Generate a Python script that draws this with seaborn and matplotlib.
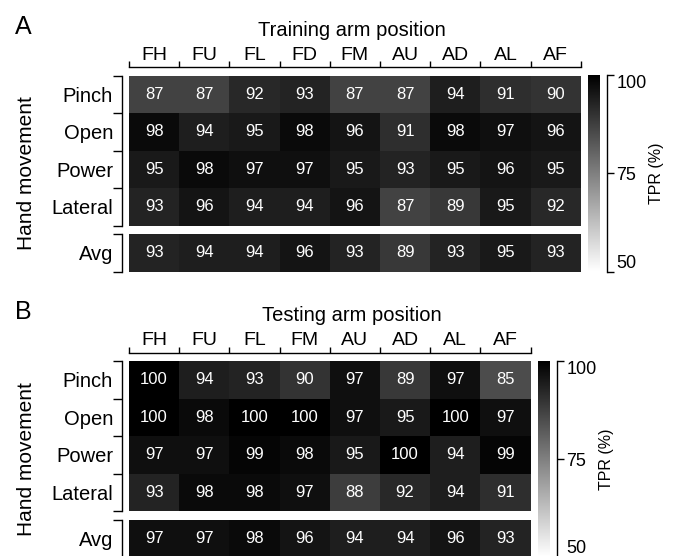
import numpy as np
import pandas as pd
import matplotlib
matplotlib.use('Agg')
import matplotlib.pyplot as plt
import seaborn as sns

# hand movements (rows) and arm positions (columns)
moves = ['Pinch', 'Open', 'Power', 'Lateral']
train_pos = ['FH', 'FU', 'FL', 'FD', 'FM', 'AU', 'AD', 'AL', 'AF']
test_pos = ['FH', 'FU', 'FL', 'FM', 'AU', 'AD', 'AL', 'AF']

# panel A: TPR (%) per training arm position
train_pinch = [87, 87, 92, 93, 87, 87, 94, 91, 90]
train_open = [98, 94, 95, 98, 96, 91, 98, 97, 96]
train_power = [95, 98, 97, 97, 95, 93, 95, 96, 95]
train_lateral = [93, 96, 94, 94, 96, 87, 89, 95, 92]
train_avg = [93, 94, 94, 96, 93, 89, 93, 95, 93]

# panel B: TPR (%) per testing arm position
test_pinch = [100, 94, 93, 90, 97, 89, 97, 85]
test_open = [100, 98, 100, 100, 97, 95, 100, 97]
test_power = [97, 97, 99, 98, 95, 100, 94, 99]
test_lateral = [93, 98, 98, 97, 88, 92, 94, 91]
test_avg = [97, 97, 98, 96, 94, 94, 96, 93]

cbar_ticks = [50, 75, 100]

W, H = 675, 556
CW, RH, GAP = 50.2, 37.5, 8.5

sns.set_style('white')
plt.rcParams['font.family'] = ['Liberation Sans', 'DejaVu Sans']
plt.rcParams['text.color'] = 'black'
plt.rcParams['axes.labelcolor'] = 'black'
plt.rcParams['xtick.color'] = 'black'
plt.rcParams['ytick.color'] = 'black'


def px_box(x0, y0, x1, y1):
    # pixel box (top-left origin) -> figure fraction
    return [x0 / W, 1 - y1 / H, (x1 - x0) / W, (y1 - y0) / H]


def bracket_y(ax, labels):
    n = len(labels)
    ax.set_yticks(np.arange(n + 1), labels=[''] * (n + 1))
    ax.set_yticks(np.arange(n) + 0.5, labels=labels, minor=True)
    ax.tick_params(axis='y', which='major', left=True, right=False, length=6.5,
                   width=1, direction='out', color='black')
    ax.tick_params(axis='y', which='minor', left=True, length=0, pad=6.5,
                   labelsize=14.5, labelrotation=0, labelcolor='black')
    ax.spines['left'].set_visible(True)
    ax.spines['left'].set_position(('outward', 5))
    ax.spines['left'].set_linewidth(1)
    ax.spines['left'].set_color('black')


def draw_panel(fig, main_df, avg_df, top, letter, title):
    ncol = main_df.shape[1]
    left = 129
    right = left + ncol * CW
    mid = top + 4 * RH
    bottom = mid + GAP + RH

    ax = fig.add_axes(px_box(left, top, right, mid))
    ax_avg = fig.add_axes(px_box(left, mid + GAP, right, bottom))
    cax = fig.add_axes(px_box(right + 7, top, right + 19, bottom))

    kw = dict(cmap='gray_r', vmin=50, vmax=100, annot=True, fmt='d',
              annot_kws={'color': 'white', 'size': 12})
    sns.heatmap(main_df, ax=ax, cbar_ax=cax, **kw)
    sns.heatmap(avg_df, ax=ax_avg, cbar=False, **kw)

    # top bracket axis with labels between the ticks
    ax.xaxis.tick_top()
    ax.set_xticks(np.arange(ncol + 1), labels=[''] * (ncol + 1))
    ax.set_xticks(np.arange(ncol) + 0.5, labels=list(main_df.columns), minor=True)
    ax.tick_params(axis='x', which='major', top=True, bottom=False, length=4.3,
                   width=1, direction='out', color='black')
    ax.tick_params(axis='x', which='minor', top=True, bottom=False, length=0,
                   labeltop=True, labelbottom=False, pad=2.5, labelsize=14,
                   labelrotation=0, labelcolor='black')
    ax.spines['top'].set_visible(True)
    ax.spines['top'].set_position(('outward', 6))
    ax.spines['top'].set_linewidth(1)
    ax.spines['top'].set_color('black')
    ax.set_xlabel('')
    ax.set_ylabel('')

    bracket_y(ax, list(main_df.index))
    bracket_y(ax_avg, list(avg_df.index))
    ax_avg.set_xticks([])
    ax_avg.set_xlabel('')
    ax_avg.set_ylabel('')

    # colorbar with a bracket axis on the right
    cbar = ax.collections[0].colorbar
    cbar.outline.set_visible(False)
    cbar.set_ticks(cbar_ticks)
    cax.spines['right'].set_visible(True)
    cax.spines['right'].set_position(('outward', 5))
    cax.spines['right'].set_linewidth(1)
    cax.spines['right'].set_color('black')
    cax.tick_params(axis='y', length=5, width=1, pad=2, labelsize=13,
                    direction='out', color='black', labelcolor='black')
    tl = cax.get_yticklabels()
    tl[0].set_va('bottom')
    tl[-1].set_va('top')
    cbar.set_label('TPR (%)', fontsize=11.5, labelpad=1.5, color='black')

    fig.text(352 / W, 1 - (top - 40) / H, title, fontsize=14.5,
             ha='center', va='baseline')
    fig.text(15 / W, 1 - (top - 42) / H, letter, fontsize=18,
             ha='left', va='baseline')
    fig.text(26 / W, 1 - (top + bottom) / 2 / H, 'Hand movement', fontsize=15,
             rotation=90, ha='center', va='center')


train_df = pd.DataFrame([train_pinch, train_open, train_power, train_lateral],
                        index=moves, columns=train_pos)
train_avg_df = pd.DataFrame([train_avg], index=['Avg'], columns=train_pos)
test_df = pd.DataFrame([test_pinch, test_open, test_power, test_lateral],
                       index=moves, columns=test_pos)
test_avg_df = pd.DataFrame([test_avg], index=['Avg'], columns=test_pos)

fig = plt.figure(figsize=(W / 100, H / 100), dpi=100)
draw_panel(fig, train_df, train_avg_df, 75.5, 'A', 'Training arm position')
draw_panel(fig, test_df, test_avg_df, 361, 'B', 'Testing arm position')

fig.savefig('out.png', dpi=100)
